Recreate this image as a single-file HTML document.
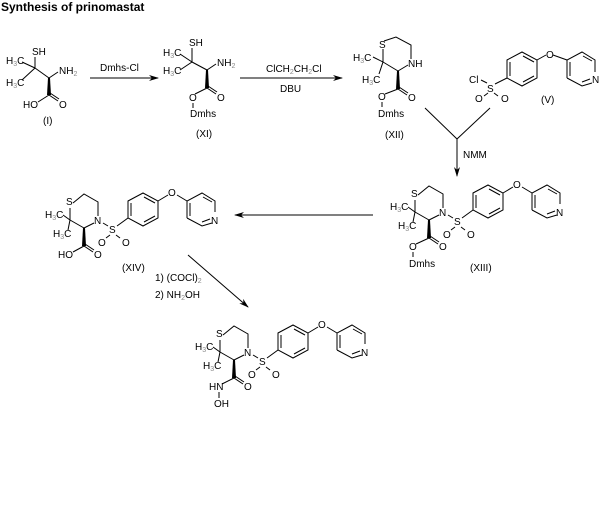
<!DOCTYPE html>
<html><head><style>
body{margin:0;background:#fff}
svg{display:block}
text{font-family:"Liberation Sans",sans-serif;font-size:10px;fill:#000}
.t{font-weight:bold;font-size:12px}
.s{font-size:7px;fill:#888}
line,polyline,polygon{stroke:#000;stroke-width:1;fill:none}
.w{fill:#000;stroke:none}
</style></head><body>
<svg width="605" height="514" viewBox="0 0 605 514">
<defs>
<marker id="ah" markerWidth="10" markerHeight="6" refX="9" refY="3" orient="auto" markerUnits="userSpaceOnUse"><path d="M0,0 L10,3 L0,6 L3,3z" fill="#000"/></marker>
<g id="core">
 <polyline points="-25,-17 -14,-26 0,-18 0,-4"/>
 <line x1="-4" y1="3" x2="-14" y2="8"/>
 <line x1="-14" y1="8" x2="-28" y2="0"/>
 <line x1="-28" y1="0" x2="-28" y2="-12"/>
 <text x="-32" y="-15">S</text>
 <text x="-4" y="4">N</text>
 <polygon class="w" points="-15,8 -13,8 -12,26 -16,26"/>
 <line x1="-28" y1="0" x2="-35" y2="-5"/>
 <line x1="-28" y1="0" x2="-30" y2="10"/>
 <text x="-53" y="-2">H<tspan class="s" dy="2">3</tspan><tspan dy="-2">C</tspan></text>
 <text x="-45" y="17">H<tspan class="s" dy="2">3</tspan><tspan dy="-2">C</tspan></text>
 <line x1="5" y1="3" x2="10" y2="6"/>
 <text x="11" y="13">S</text>
 <line x1="19" y1="6" x2="30" y2="-2"/>
 <line x1="12" y1="15" x2="8" y2="18"/><line x1="18" y1="15" x2="22" y2="18"/>
 <text x="0" y="26">O</text><text x="24" y="26">O</text>
 <polygon points="30,-19 45,-27 60,-19 60,-2 45,6 30,-2"/>
 <line x1="33" y1="-17" x2="33" y2="-4"/><line x1="46" y1="-23" x2="57" y2="-17"/><line x1="46" y1="2" x2="57" y2="-4"/>
 <line x1="60" y1="-19" x2="70" y2="-25"/><line x1="79" y1="-25" x2="89" y2="-19"/>
 <text x="70" y="-24">O</text>
 <polyline points="89,-2 89,-19 104,-27 117,-19 117,-8"/>
 <polyline points="114,3 104,6 89,-2"/>
 <line x1="92" y1="-4" x2="92" y2="-17"/><line x1="105" y1="-23" x2="114" y2="-18"/><line x1="104" y1="2" x2="112" y2="-1"/>
 <text x="113" y="4">N</text>
</g>
</defs>
<text class="t" x="1" y="11">Synthesis of prinomastat</text>

<!-- (I) -->
<text x="32" y="55">SH</text>
<line x1="35" y1="57" x2="35" y2="68"/>
<text x="6" y="64">H<tspan class="s" dy="2">3</tspan><tspan dy="-2">C</tspan></text>
<text x="6" y="86">H<tspan class="s" dy="2">3</tspan><tspan dy="-2">C</tspan></text>
<line x1="22" y1="62" x2="35" y2="68"/><line x1="22" y1="80" x2="35" y2="68"/>
<line x1="35" y1="68" x2="49" y2="78"/><line x1="49" y1="78" x2="58" y2="72"/>
<text x="59" y="74">NH<tspan class="s" dy="2">2</tspan></text>
<polygon class="w" points="48,78 50,78 51,95 47,95"/>
<line x1="49" y1="95" x2="38" y2="102"/><line x1="49" y1="95" x2="58" y2="101"/><line x1="50" y1="93" x2="59" y2="99"/>
<text x="23" y="108">HO</text><text x="59" y="108">O</text>
<text x="43" y="124">(I)</text>

<line x1="90" y1="78" x2="158" y2="78" marker-end="url(#ah)"/>
<text x="100" y="71">Dmhs-Cl</text>

<!-- (XI) -->
<text x="189" y="46">SH</text>
<line x1="192" y1="48" x2="192" y2="62"/>
<text x="163" y="56">H<tspan class="s" dy="2">3</tspan><tspan dy="-2">C</tspan></text>
<text x="163" y="74">H<tspan class="s" dy="2">3</tspan><tspan dy="-2">C</tspan></text>
<line x1="180" y1="54" x2="192" y2="62"/><line x1="180" y1="70" x2="192" y2="62"/>
<line x1="192" y1="62" x2="207" y2="70"/><line x1="207" y1="70" x2="216" y2="64"/>
<text x="217" y="66">NH<tspan class="s" dy="2">2</tspan></text>
<polygon class="w" points="206,70 208,70 209,88 205,88"/>
<line x1="207" y1="88" x2="195" y2="94"/><line x1="207" y1="88" x2="216" y2="94"/><line x1="208" y1="86" x2="217" y2="92"/>
<text x="189" y="101">O</text><text x="217" y="101">O</text>
<line x1="193" y1="103" x2="193" y2="108"/>
<text x="190" y="117">Dmhs</text>
<text x="196" y="137">(XI)</text>

<line x1="240" y1="78" x2="342" y2="78" marker-end="url(#ah)"/>
<text x="266" y="72">ClCH<tspan class="s" dy="2">2</tspan><tspan dy="-2">CH</tspan><tspan class="s" dy="2">2</tspan><tspan dy="-2">Cl</tspan></text>
<text x="280" y="92">DBU</text>

<!-- (XII) -->
<polyline points="384,41 396,37 411,45 411,59"/>
<line x1="408" y1="65" x2="398" y2="71"/>
<line x1="398" y1="71" x2="383" y2="62"/><line x1="383" y1="62" x2="383" y2="49"/>
<text x="379" y="48">S</text><text x="408" y="67">NH</text>
<text x="353" y="61">H<tspan class="s" dy="2">3</tspan><tspan dy="-2">C</tspan></text>
<text x="362" y="83">H<tspan class="s" dy="2">3</tspan><tspan dy="-2">C</tspan></text>
<line x1="383" y1="62" x2="373" y2="57"/><line x1="383" y1="62" x2="379" y2="74"/>
<polygon class="w" points="397,71 399,71 400,89 396,89"/>
<line x1="398" y1="89" x2="385" y2="94"/><line x1="398" y1="89" x2="407" y2="95"/><line x1="399" y1="87" x2="408" y2="93"/>
<text x="378" y="100">O</text><text x="408" y="101">O</text>
<line x1="382" y1="102" x2="382" y2="107"/>
<text x="378" y="117">Dmhs</text>
<text x="385" y="138">(XII)</text>

<!-- (V) -->
<text x="469" y="83">Cl</text>
<line x1="481" y1="80" x2="487" y2="83"/>
<text x="487" y="92">S</text>
<line x1="495" y1="84" x2="507" y2="78"/>
<line x1="488" y1="93" x2="484" y2="96"/><line x1="494" y1="93" x2="498" y2="96"/>
<text x="475" y="102">O</text><text x="501" y="102">O</text>
<polygon points="507,60 522,52 537,60 537,78 522,86 507,78"/>
<line x1="510" y1="62" x2="510" y2="76"/><line x1="523" y1="56" x2="534" y2="62"/><line x1="523" y1="82" x2="534" y2="76"/>
<line x1="537" y1="60" x2="546" y2="55"/><line x1="553" y1="55" x2="567" y2="60"/>
<text x="546" y="58">O</text>
<polyline points="567,78 567,60 582,52 595,60 595,72"/>
<polyline points="592,83 582,86 567,78"/>
<line x1="570" y1="62" x2="570" y2="76"/><line x1="583" y1="56" x2="592" y2="61"/><line x1="582" y1="82" x2="590" y2="79"/>
<text x="592" y="83">N</text>
<text x="541" y="103">(V)</text>

<!-- converging arrow -->
<line x1="425" y1="108" x2="457" y2="139"/><line x1="490" y1="108" x2="457" y2="139"/>
<line x1="457" y1="139" x2="457" y2="176" marker-end="url(#ah)"/>
<text x="463" y="158">NMM</text>

<!-- (XIII) -->
<use href="#core" transform="translate(443,212)"/>
<line x1="429" y1="238" x2="416" y2="244"/><line x1="429" y1="238" x2="438" y2="244"/><line x1="430" y1="236" x2="439" y2="242"/>
<text x="409" y="250">O</text><text x="439" y="250">O</text>
<line x1="413" y1="252" x2="413" y2="257"/>
<text x="409" y="267">Dmhs</text>
<text x="470" y="271">(XIII)</text>

<line x1="373" y1="215" x2="235" y2="215" marker-end="url(#ah)"/>

<!-- (XIV) -->
<use href="#core" transform="translate(98,220)"/>
<line x1="84" y1="246" x2="73" y2="252"/><line x1="84" y1="246" x2="93" y2="252"/><line x1="85" y1="244" x2="94" y2="250"/>
<text x="58" y="258">HO</text><text x="94" y="258">O</text>
<text x="122" y="271">(XIV)</text>
<text x="155" y="281">1) (COCl)<tspan class="s" dy="2">2</tspan></text>
<text x="155" y="298">2) NH<tspan class="s" dy="2">2</tspan><tspan dy="-2">OH</tspan></text>
<line x1="188" y1="255" x2="248" y2="307" marker-end="url(#ah)"/>

<!-- final -->
<use href="#core" transform="translate(248,352)"/>
<line x1="234" y1="378" x2="222" y2="384"/><line x1="234" y1="378" x2="243" y2="384"/><line x1="235" y1="376" x2="244" y2="382"/>
<text x="209" y="390">HN</text><text x="244" y="390">O</text>
<line x1="219" y1="392" x2="219" y2="398"/>
<text x="214" y="407">OH</text>
</svg>
</body></html>
